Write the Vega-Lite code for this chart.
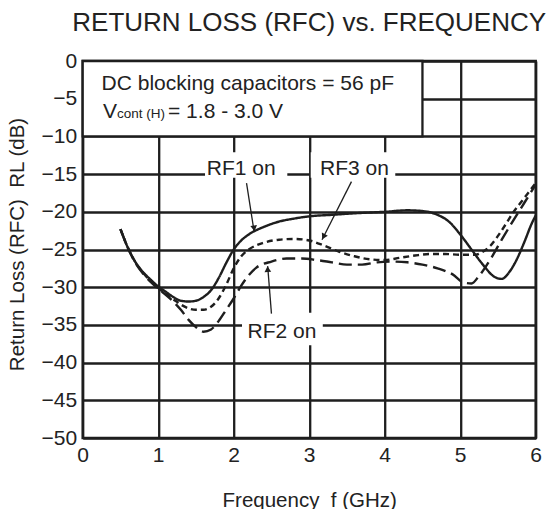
{
  "$schema": "https://vega.github.io/schema/vega-lite/v6.json",
  "width": 453,
  "height": 377,
  "autosize": {"type": "none"},
  "padding": {"left": 82.7, "top": 61, "right": 19.3, "bottom": 71},
  "background": "white",
  "title": {
    "text": "RETURN LOSS (RFC) vs. FREQUENCY",
    "font": "Liberation Sans",
    "fontSize": 26,
    "fontWeight": "normal",
    "color": "#222",
    "anchor": "middle",
    "frame": "group",
    "baseline": "alphabetic",
    "offset": 21,
    "dy": 28
  },
  "config": {
    "view": {"stroke": "#1e1e1e", "strokeWidth": 2.5},
    "axis": {
      "labelFont": "Liberation Sans",
      "labelFontSize": 21,
      "labelColor": "#222",
      "labelOverlap": false,
      "labelFlush": false,
      "titleFont": "Liberation Sans",
      "titleFontSize": 20.5,
      "titleFontWeight": "normal",
      "titleColor": "#222",
      "ticks": false,
      "domain": false,
      "grid": true,
      "gridColor": "#1e1e1e",
      "gridWidth": 2.3,
      "gridOpacity": 1
    }
  },
  "datasets": {
    "curves": [
      {"x": 0.5, "y": -22.3, "s": "RF1"}, {"x": 0.6, "y": -24.8, "s": "RF1"}, {"x": 0.7, "y": -26.7, "s": "RF1"}, {"x": 0.8, "y": -28.0, "s": "RF1"}, {"x": 0.9, "y": -29.0, "s": "RF1"}, {"x": 1.0, "y": -29.9, "s": "RF1"}, {"x": 1.1, "y": -30.6, "s": "RF1"}, {"x": 1.2, "y": -31.3, "s": "RF1"}, {"x": 1.3, "y": -31.8, "s": "RF1"}, {"x": 1.4, "y": -31.9, "s": "RF1"}, {"x": 1.5, "y": -31.8, "s": "RF1"}, {"x": 1.6, "y": -31.3, "s": "RF1"}, {"x": 1.7, "y": -30.4, "s": "RF1"}, {"x": 1.8, "y": -28.8, "s": "RF1"}, {"x": 1.9, "y": -26.8, "s": "RF1"}, {"x": 2.0, "y": -25.0, "s": "RF1"}, {"x": 2.1, "y": -23.8, "s": "RF1"}, {"x": 2.2, "y": -23.0, "s": "RF1"}, {"x": 2.4, "y": -22.0, "s": "RF1"}, {"x": 2.6, "y": -21.3, "s": "RF1"}, {"x": 2.8, "y": -20.9, "s": "RF1"}, {"x": 3.0, "y": -20.6, "s": "RF1"}, {"x": 3.3, "y": -20.4, "s": "RF1"}, {"x": 3.6, "y": -20.2, "s": "RF1"}, {"x": 4.0, "y": -20.0, "s": "RF1"}, {"x": 4.3, "y": -19.8, "s": "RF1"}, {"x": 4.5, "y": -19.9, "s": "RF1"}, {"x": 4.7, "y": -20.4, "s": "RF1"}, {"x": 4.85, "y": -21.3, "s": "RF1"}, {"x": 5.0, "y": -23.0, "s": "RF1"}, {"x": 5.15, "y": -25.0, "s": "RF1"}, {"x": 5.3, "y": -27.0, "s": "RF1"}, {"x": 5.45, "y": -28.6, "s": "RF1"}, {"x": 5.55, "y": -28.9, "s": "RF1"}, {"x": 5.65, "y": -28.0, "s": "RF1"}, {"x": 5.75, "y": -26.3, "s": "RF1"}, {"x": 5.85, "y": -24.0, "s": "RF1"}, {"x": 5.95, "y": -21.5, "s": "RF1"}, {"x": 6.0, "y": -20.5, "s": "RF1"},
      {"x": 0.5, "y": -22.3, "s": "RF3"}, {"x": 0.6, "y": -24.8, "s": "RF3"}, {"x": 0.7, "y": -26.7, "s": "RF3"}, {"x": 0.8, "y": -28.1, "s": "RF3"}, {"x": 0.9, "y": -29.2, "s": "RF3"}, {"x": 1.0, "y": -30.1, "s": "RF3"}, {"x": 1.1, "y": -30.9, "s": "RF3"}, {"x": 1.2, "y": -31.6, "s": "RF3"}, {"x": 1.3, "y": -32.3, "s": "RF3"}, {"x": 1.4, "y": -32.8, "s": "RF3"}, {"x": 1.5, "y": -33.0, "s": "RF3"}, {"x": 1.6, "y": -33.0, "s": "RF3"}, {"x": 1.7, "y": -32.6, "s": "RF3"}, {"x": 1.8, "y": -31.5, "s": "RF3"}, {"x": 1.9, "y": -29.7, "s": "RF3"}, {"x": 2.0, "y": -27.5, "s": "RF3"}, {"x": 2.1, "y": -25.9, "s": "RF3"}, {"x": 2.2, "y": -25.0, "s": "RF3"}, {"x": 2.4, "y": -24.1, "s": "RF3"}, {"x": 2.6, "y": -23.7, "s": "RF3"}, {"x": 2.8, "y": -23.6, "s": "RF3"}, {"x": 3.0, "y": -23.8, "s": "RF3"}, {"x": 3.2, "y": -24.5, "s": "RF3"}, {"x": 3.4, "y": -25.3, "s": "RF3"}, {"x": 3.6, "y": -25.9, "s": "RF3"}, {"x": 3.8, "y": -26.3, "s": "RF3"}, {"x": 4.0, "y": -26.4, "s": "RF3"}, {"x": 4.2, "y": -26.1, "s": "RF3"}, {"x": 4.4, "y": -25.8, "s": "RF3"}, {"x": 4.6, "y": -25.6, "s": "RF3"}, {"x": 4.8, "y": -25.6, "s": "RF3"}, {"x": 5.0, "y": -25.7, "s": "RF3"}, {"x": 5.2, "y": -25.7, "s": "RF3"}, {"x": 5.3, "y": -25.3, "s": "RF3"}, {"x": 5.4, "y": -24.5, "s": "RF3"}, {"x": 5.5, "y": -23.2, "s": "RF3"}, {"x": 5.6, "y": -21.7, "s": "RF3"}, {"x": 5.7, "y": -20.1, "s": "RF3"}, {"x": 5.8, "y": -18.8, "s": "RF3"}, {"x": 5.9, "y": -17.5, "s": "RF3"}, {"x": 6.0, "y": -16.2, "s": "RF3"},
      {"x": 0.5, "y": -22.3, "s": "RF2"}, {"x": 0.6, "y": -24.8, "s": "RF2"}, {"x": 0.7, "y": -26.8, "s": "RF2"}, {"x": 0.8, "y": -28.2, "s": "RF2"}, {"x": 0.9, "y": -29.3, "s": "RF2"}, {"x": 1.0, "y": -30.2, "s": "RF2"}, {"x": 1.1, "y": -31.0, "s": "RF2"}, {"x": 1.2, "y": -31.9, "s": "RF2"}, {"x": 1.3, "y": -33.0, "s": "RF2"}, {"x": 1.4, "y": -34.3, "s": "RF2"}, {"x": 1.5, "y": -35.3, "s": "RF2"}, {"x": 1.6, "y": -35.9, "s": "RF2"}, {"x": 1.7, "y": -35.6, "s": "RF2"}, {"x": 1.8, "y": -34.5, "s": "RF2"}, {"x": 1.9, "y": -33.0, "s": "RF2"}, {"x": 2.0, "y": -31.5, "s": "RF2"}, {"x": 2.1, "y": -29.8, "s": "RF2"}, {"x": 2.2, "y": -28.4, "s": "RF2"}, {"x": 2.3, "y": -27.4, "s": "RF2"}, {"x": 2.5, "y": -26.6, "s": "RF2"}, {"x": 2.7, "y": -26.2, "s": "RF2"}, {"x": 2.9, "y": -26.2, "s": "RF2"}, {"x": 3.1, "y": -26.4, "s": "RF2"}, {"x": 3.3, "y": -26.7, "s": "RF2"}, {"x": 3.5, "y": -27.0, "s": "RF2"}, {"x": 3.7, "y": -27.0, "s": "RF2"}, {"x": 3.9, "y": -26.7, "s": "RF2"}, {"x": 4.1, "y": -26.6, "s": "RF2"}, {"x": 4.3, "y": -26.7, "s": "RF2"}, {"x": 4.5, "y": -27.0, "s": "RF2"}, {"x": 4.7, "y": -27.5, "s": "RF2"}, {"x": 4.9, "y": -28.3, "s": "RF2"}, {"x": 5.05, "y": -29.4, "s": "RF2"}, {"x": 5.15, "y": -29.5, "s": "RF2"}, {"x": 5.25, "y": -28.5, "s": "RF2"}, {"x": 5.4, "y": -26.3, "s": "RF2"}, {"x": 5.55, "y": -23.7, "s": "RF2"}, {"x": 5.7, "y": -21.2, "s": "RF2"}, {"x": 5.85, "y": -18.8, "s": "RF2"}, {"x": 6.0, "y": -16.4, "s": "RF2"}
    ],
    "boxes": [
      {"id": "RF1", "x": 1.62, "x2": 2.71, "y": -12.1, "y2": -15.5},
      {"id": "RF3", "x": 3.02, "x2": 4.14, "y": -12.1, "y2": -15.5},
      {"id": "RF2", "x": 2.11, "x2": 3.18, "y": -33.4, "y2": -37.7}
    ],
    "labels": [
      {"t": "RF1 on", "x": 2.1, "y": -15.1},
      {"t": "RF3 on", "x": 3.6, "y": -15.1},
      {"t": "RF2 on", "x": 2.64, "y": -36.7}
    ],
    "arrows": [
      {"id": "RF1", "x": 2.17, "y": -16.2, "x2": 2.27, "y2": -22.6},
      {"id": "RF3", "x": 3.56, "y": -16.0, "x2": 3.17, "y2": -23.7},
      {"id": "RF2", "x": 2.5, "y": -33.5, "x2": 2.45, "y2": -27.2}
    ],
    "heads": [
      {"id": "RF1", "x": 2.27, "y": -22.6},
      {"id": "RF3", "x": 3.17, "y": -23.7},
      {"id": "RF2", "x": 2.45, "y": -27.2}
    ],
    "note": [
      {"t": "DC blocking capacitors = 56 pF", "x": 0.25, "y": -3.85},
      {"t": "V", "x": 0.27, "y": -7.56},
      {"t": "= 1.8 - 3.0 V", "x": 1.13, "y": -7.56}
    ],
    "sub": [
      {"t": "cont (H)", "x": 0.455, "y": -7.6}
    ],
    "notebox": [
      {"x": 0, "x2": 4.5, "y": 0, "y2": -10}
    ]
  },
  "encoding": {
    "x": {
      "field": "x", "type": "quantitative",
      "scale": {"domain": [0, 6], "nice": false, "zero": false},
      "axis": {"values": [0, 1, 2, 3, 4, 5, 6], "format": "d", "title": "Frequency\u00a0\u00a0f (GHz)", "labelPadding": 6, "titleY": 68, "titleBaseline": "alphabetic"}
    },
    "y": {
      "field": "y", "type": "quantitative",
      "scale": {"domain": [-50, 0], "nice": false, "zero": false},
      "axis": {"values": [-50, -45, -40, -35, -30, -25, -20, -15, -10, -5, 0], "format": "d", "title": "Return Loss (RFC)\u00a0\u00a0RL (dB)", "labelPadding": 6, "titleX": -59, "titleY": 183, "titleBaseline": "alphabetic"}
    }
  },
  "layer": [
    {
      "data": {"name": "notebox"},
      "mark": {"type": "rect", "fill": "white", "stroke": "#1e1e1e", "strokeWidth": 2.3},
      "encoding": {"x2": {"field": "x2"}, "y2": {"field": "y2"}}
    },
    {
      "data": {"name": "boxes"},
      "mark": {"type": "rect", "fill": "white"},
      "encoding": {"x2": {"field": "x2"}, "y2": {"field": "y2"}}
    },
    {
      "data": {"name": "curves"},
      "mark": {"type": "line", "interpolate": "monotone", "color": "#1e1e1e", "strokeWidth": 2.4},
      "encoding": {
        "detail": {"field": "s"},
        "strokeDash": {"field": "s", "type": "nominal", "scale": {"domain": ["RF1", "RF2", "RF3"], "range": [[1, 0], [13, 6], [6, 4]]}, "legend": null}
      }
    },
    {
      "data": {"name": "arrows"},
      "mark": {"type": "rule", "color": "#1e1e1e", "strokeWidth": 1.3},
      "encoding": {"x2": {"field": "x2"}, "y2": {"field": "y2"}}
    },
    {
      "data": {"name": "heads"},
      "transform": [{"filter": "datum.id === 'RF1'"}],
      "mark": {"type": "point", "shape": "triangle-down", "filled": true, "color": "#1e1e1e", "size": 45, "angle": -9, "opacity": 1, "yOffset": -3}
    },
    {
      "data": {"name": "heads"},
      "transform": [{"filter": "datum.id === 'RF3'"}],
      "mark": {"type": "point", "shape": "triangle-down", "filled": true, "color": "#1e1e1e", "size": 45, "angle": 27, "opacity": 1, "xOffset": 1.5, "yOffset": -3}
    },
    {
      "data": {"name": "heads"},
      "transform": [{"filter": "datum.id === 'RF2'"}],
      "mark": {"type": "point", "shape": "triangle-down", "filled": true, "color": "#1e1e1e", "size": 45, "angle": 176, "opacity": 1, "yOffset": 3}
    },
    {
      "data": {"name": "labels"},
      "mark": {"type": "text", "font": "Liberation Sans", "fontSize": 21, "color": "#222", "align": "center", "baseline": "alphabetic"},
      "encoding": {"text": {"field": "t"}}
    },
    {
      "data": {"name": "note"},
      "mark": {"type": "text", "font": "Liberation Sans", "fontSize": 21, "color": "#222", "align": "left", "baseline": "alphabetic"},
      "encoding": {"text": {"field": "t"}}
    },
    {
      "data": {"name": "sub"},
      "mark": {"type": "text", "font": "Liberation Sans", "fontSize": 13.5, "color": "#222", "align": "left", "baseline": "alphabetic"},
      "encoding": {"text": {"field": "t"}}
    }
  ]
}
